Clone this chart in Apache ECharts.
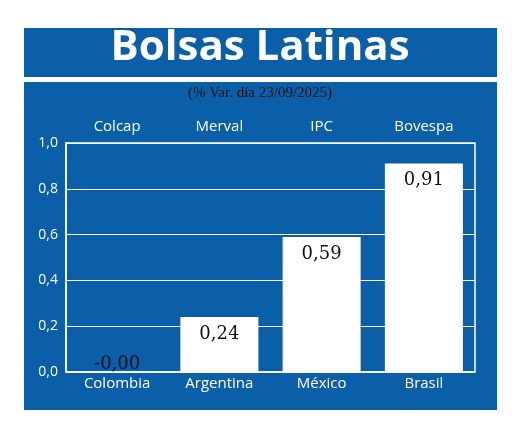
<!DOCTYPE html>
<html><head><meta charset="utf-8">
<script src="https://cdn.jsdelivr.net/npm/echarts@6/dist/echarts.min.js"></script>
<style>body{margin:0;background:#fff}#c{width:520px;height:432px}</style>
</head><body><div id="c"></div>
<script>
const countries = ['Colombia','Argentina','México','Brasil'];
const indices = ['Colcap','Merval','IPC','Bovespa'];
const values = [-0.001, 0.24, 0.59, 0.91];
const valueLabels = ['-0,00','0,24','0,59','0,91'];
const chart = echarts.init(document.getElementById('c'));
chart.setOption({
  animation:false,
  graphic:[
    {type:'rect',shape:{x:24,y:28,width:473,height:382},style:{fill:'#0b5ea8'},z:-10},
    {type:'rect',shape:{x:24,y:77,width:473,height:5},style:{fill:'#fff'},z:-9},
    {type:'text',left:'center',top:27,style:{text:'Bolsas Latinas',fill:'#fff',font:'bold 42px "Open Sans", Lato, sans-serif'}},
    {type:'text',left:'center',top:86,style:{text:'(% Var. día 23/09/2025)',fill:'#111',font:'15px "Liberation Serif", serif'}}
  ],
  grid:{left:66,right:45,top:143,bottom:60,show:true,borderColor:'#fff',borderWidth:1.5},
  xAxis:[
    {type:'category',data:countries,position:'bottom',axisLine:{lineStyle:{color:'#fff',width:1.5}},axisTick:{show:false},
     axisLabel:{color:'#fff',fontSize:15,fontFamily:'"Open Sans", sans-serif',margin:4}},
    {type:'category',data:indices,position:'top',axisLine:{show:false},axisTick:{show:false},
     axisLabel:{color:'#fff',fontSize:15,fontFamily:'"Open Sans", sans-serif',margin:9}}
  ],
  yAxis:{type:'value',min:0,max:1,interval:0.2,axisLine:{show:true,lineStyle:{color:'#fff',width:1.5}},axisTick:{show:false},
    splitLine:{lineStyle:{color:'#fff',width:1}},
    axisLabel:{color:'#fff',fontSize:14,fontFamily:'"Open Sans", sans-serif',formatter:v=>v.toFixed(1).replace('.',',')}},
  series:[{type:'bar',data:values.map((v,i)=>i===0?{value:v,label:{show:false}}:v),barWidth:78,itemStyle:{color:'#fff'},
    label:{show:true,position:'insideTop',distance:8,color:'#111',fontSize:18,fontFamily:'"DejaVu Serif", "Liberation Serif", serif',
      formatter:p=>valueLabels[p.dataIndex]}},
   {type:'bar',data:[0.1,null,null,null],barGap:'-100%',barWidth:78,itemStyle:{color:'transparent'},
    label:{show:true,position:'insideTop',distance:6,color:'#111',fontSize:18,fontFamily:'"DejaVu Serif", "Liberation Serif", serif',formatter:()=>valueLabels[0]}}]
});
</script></body></html>
